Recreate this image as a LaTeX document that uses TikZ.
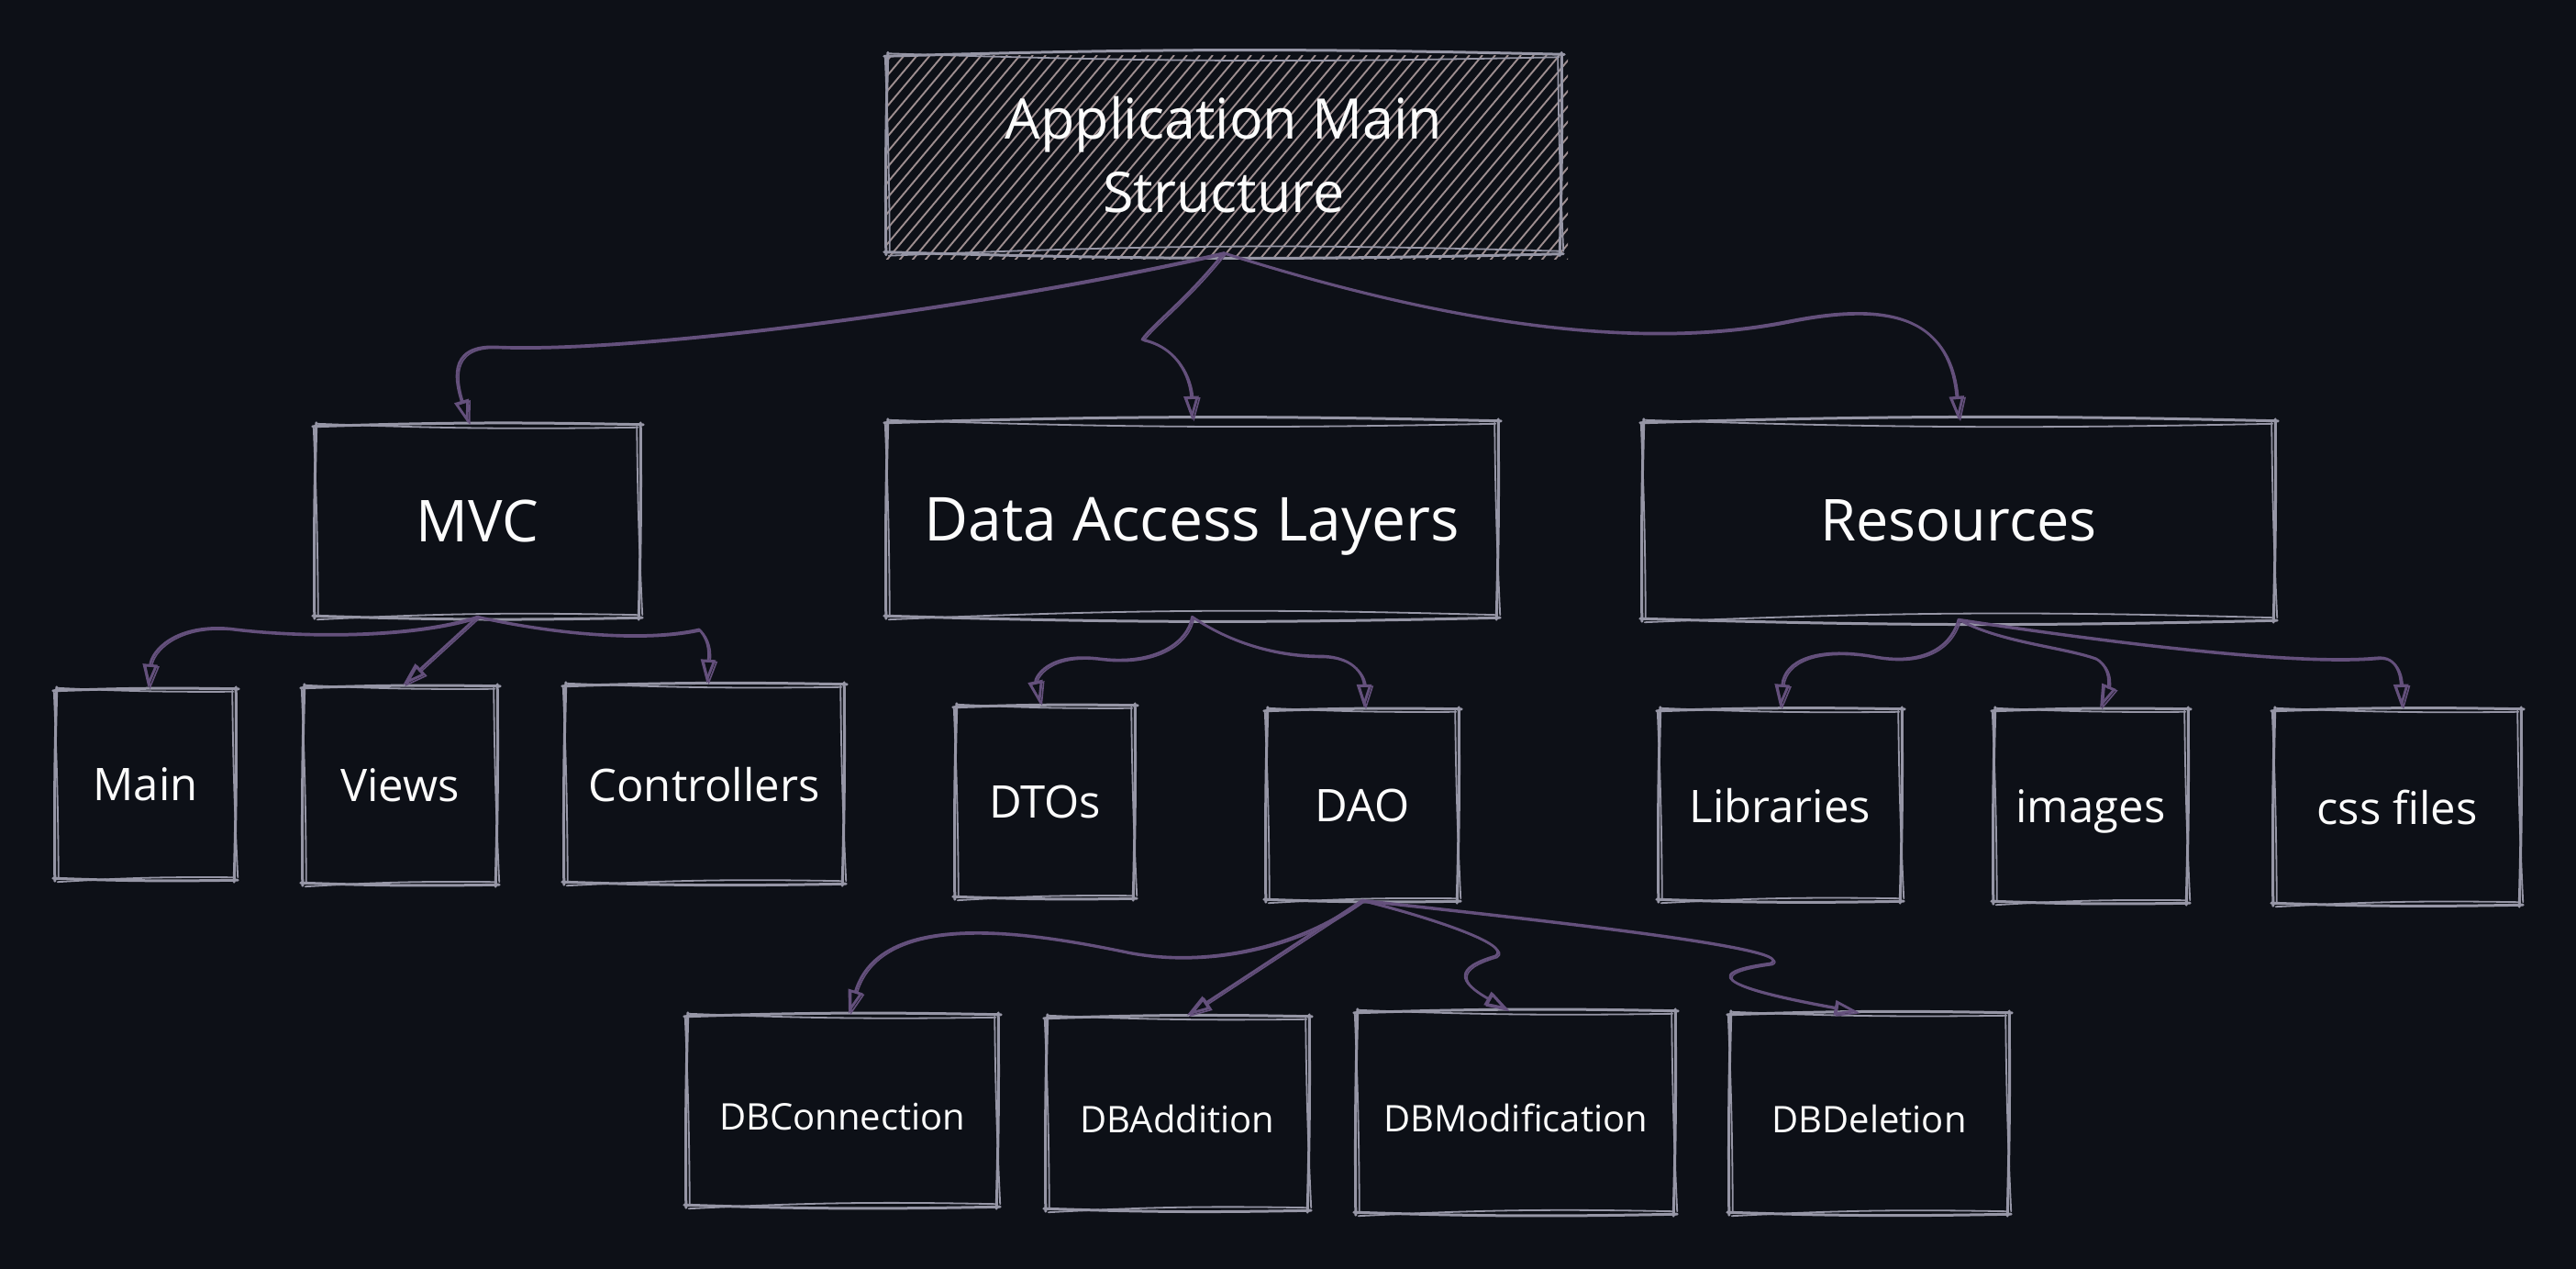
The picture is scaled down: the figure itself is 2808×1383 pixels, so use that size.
\documentclass[tikz,border=0pt]{standalone}
\usepackage{fontspec}
\setmainfont{Open Sans}
\usetikzlibrary{arrows.meta,calc}
\definecolor{bg}{RGB}{13,16,23}
\definecolor{boxc}{RGB}{150,150,166}
\definecolor{hatc}{RGB}{158,142,144}
\definecolor{arrc}{RGB}{100,80,124}
\definecolor{txt}{RGB}{252,252,252}
\newcommand\mybox[1]{%
 \draw[boxline]
   ($(#1.north west)+(-3,1)$) to[bend left=1.5] ($(#1.north east)+(4,-1)$)
   ($(#1.north east)+(1,-3)$) to[bend left=1] ($(#1.south east)+(-1,3)$)
   ($(#1.south east)+(3,1)$) to[bend left=1.5] ($(#1.south west)+(-3,-1)$)
   ($(#1.south west)+(-1,2)$) to[bend left=1] ($(#1.north west)+(1,-3)$);
 \draw[boxline2]
   ($(#1.north west)+(2,-2)$) to[bend right=1.5] ($(#1.north east)+(-2,2)$)
   ($(#1.north east)+(-3,1)$) to[bend right=1] ($(#1.south east)+(3,-2)$)
   ($(#1.south east)+(-1,-2)$) to[bend right=2] ($(#1.south west)+(2,3)$)
   ($(#1.south west)+(3,-1)$) to[bend right=1] ($(#1.north west)+(-2,2)$);
}
\newcommand\myconn[1]{%
 \draw[conn] #1;
 \draw[conn, line width=1.6pt, transform canvas={shift={(2pt,-1.5pt)}}] #1;
}
\begin{document}
\begin{tikzpicture}[x=1pt,y=-1pt,
  box/.style={rectangle, inner sep=0pt, text=txt, align=center, text depth=0pt},
  small/.style={font=\fontsize{49}{58}\selectfont},
  mid/.style={font=\fontsize{63}{74}\selectfont},
  tiny/.style={font=\fontsize{40}{48}\selectfont},
  boxline/.style={draw=boxc, line width=3pt, line cap=round, line join=round},
  boxline2/.style={draw=boxc, line width=1.8pt, line cap=round},
  conn/.style={draw=arrc, line width=2.8pt, line cap=round, line join=round, -{Triangle[open, length=26pt, width=16pt]}},
  hatch/.style={draw=hatc, line width=1.9pt}]
\fill[bg] (0,0) rectangle (2808,1383);
\useasboundingbox (0,0) rectangle (2808,1383);
% hatch of the title box
\begin{scope}
\clip (965,61) rectangle (1709,282);
\foreach \x in {770,784,...,1720} \draw[hatch] (\x,284) -- ++(188,-224);
\end{scope}
% nodes
\node[box, font=\fontsize{61}{80}\selectfont, minimum width=734pt, minimum height=215pt] (top) at (1334,168) {Application Main\\Structure};
\node[box, mid, minimum width=353pt, minimum height=208pt] (mvc) at (520.5,568) {MVC};
\node[box, font=\fontsize{66}{74}\selectfont, minimum width=665pt, minimum height=212pt] (dal) at (1299.5,566) {Data Access Layers};
\node[box, mid, minimum width=688pt, minimum height=215pt] (res) at (2135,567.5) {Resources};
\node[box, small, minimum width=195pt, minimum height=206pt] (main) at (158.5,855) {Main};
\node[box, small, minimum width=210pt, minimum height=214pt] (views) at (436,856) {Views};
\node[box, small, minimum width=303pt, minimum height=215pt] (ctrl) at (767.5,854.5) {Controllers};
\node[box, small, minimum width=194pt, minimum height=208pt] (dtos) at (1139,874) {DTOs};
\node[box, small, minimum width=208pt, minimum height=207pt] (dao) at (1485,877.5) {DAO};
\node[box, small, minimum width=263pt, minimum height=207pt] (lib) at (1940.5,877.5) {Libraries};
\node[box, small, minimum width=210pt, minimum height=209pt] (img) at (2279,878.5) {images};
\node[box, small, minimum width=268pt, minimum height=211pt] (css) at (2613,879.5) {css files};
\node[box, tiny, minimum width=338pt, minimum height=207pt] (dbc) at (918,1210.5) {};
\node[box, tiny, minimum width=285pt, minimum height=209pt] (dba) at (1283.5,1213.5) {};
\node[box, tiny, minimum width=346pt, minimum height=219pt] (dbm) at (1652,1212.5) {};
\node[box, tiny, minimum width=303pt, minimum height=217pt] (dbd) at (2037.5,1213.5) {};
\node[box, tiny] (dbct) at ($(dbc.center)+(0,6)$) {DBConnection};
\node[box, tiny] (dbat) at ($(dba.center)+(0,6)$) {DBAddition};
\node[box, tiny] (dbmt) at ($(dbm.center)+(0,6)$) {DBModification};
\node[box, tiny] (dbdt) at ($(dbd.center)+(0,6)$) {DBDeletion};
\foreach \n in {top,mvc,dal,res,main,views,ctrl,dtos,dao,lib,img,css,dbc,dba,dbm,dbd} {\mybox{\n}}
% connectors
\myconn{(top.south) .. controls (1100,330) and (700,385) .. (540,378) .. controls (485,376) and (498,420) .. ($(mvc.north)+(-10,-2)$)}
\myconn{(top.south) .. controls (1295,325) and (1255,355) .. (1245,370) .. controls (1290,380) and (1298,420) .. ($(dal.north)+(0,-2)$)}
\myconn{(top.south) .. controls (1600,360) and (1800,380) .. (1950,350) .. controls (2050,330) and (2125,340) .. ($(res.north)+(0,-2)$)}
\myconn{(mvc.south) .. controls (450,695) and (330,695) .. (250,685) .. controls (190,680) and (165,710) .. ($(main.north)+(3,-2)$)}
\myconn{(mvc.south) -- ($(views.north)+(3,-2)$)}
\myconn{(mvc.south) .. controls (600,690) and (700,700) .. (762,686) .. controls (776,700) and (772,720) .. ($(ctrl.north)+(3,-2)$)}
\myconn{(dal.south) .. controls (1295,700) and (1260,725) .. (1200,718) .. controls (1140,710) and (1128,740) .. ($(dtos.north)+(-5,-2)$)}
\myconn{(dal.south) .. controls (1340,700) and (1390,715) .. (1440,715) .. controls (1480,716) and (1487,740) .. ($(dao.north)+(2,-2)$)}
\myconn{(res.south) .. controls (2125,710) and (2090,725) .. (2040,715) .. controls (1980,705) and (1945,720) .. ($(lib.north)+(0,-2)$)}
\myconn{(res.south) .. controls (2180,700) and (2250,705) .. (2285,718) .. controls (2305,730) and (2296,755) .. ($(img.north)+(10,-2)$)}
\myconn{(res.south) .. controls (2300,700) and (2500,725) .. (2590,717) .. controls (2615,714) and (2617,740) .. ($(css.north)+(5,-2)$)}
\myconn{(dao.south) .. controls (1420,1030) and (1320,1055) .. (1230,1038) .. controls (1120,1015) and (960,990) .. ($(dbc.north)+(7,-2)$)}
\myconn{(dao.south) -- ($(dba.north)+(10,-2)$)}
\myconn{(dao.south) .. controls (1560,1000) and (1650,1030) .. (1630,1042) .. controls (1585,1055) and (1590,1070) .. ($(dbm.north)+(-8,-2)$)}
\myconn{(dao.south) .. controls (1750,1010) and (1960,1035) .. (1930,1050) .. controls (1840,1062) and (1900,1080) .. ($(dbd.north)+(-12,-2)$)}
\end{tikzpicture}
\end{document}
